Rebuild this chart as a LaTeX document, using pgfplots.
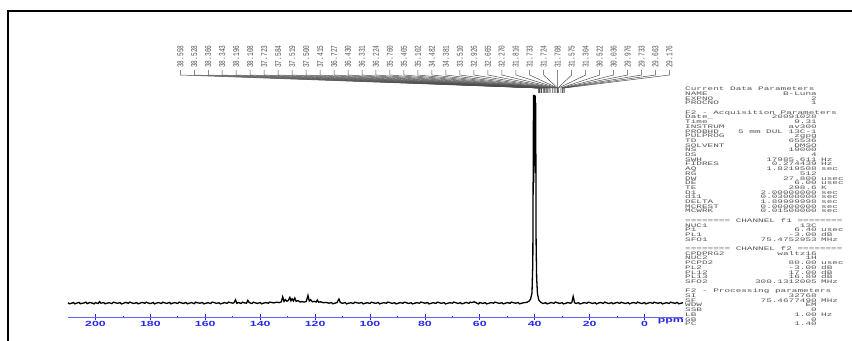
\documentclass[border=0pt]{standalone}
\usepackage{pgfplots}
\pgfplotsset{compat=1.18}
\usepackage{fontspec}
\setmainfont{Liberation Sans}
\setmonofont{Liberation Mono}
\usepackage{graphicx}

\definecolor{nmrblue}{RGB}{40,40,235}
\definecolor{axblue}{RGB}{100,100,250}
\definecolor{txtgray}{RGB}{85,85,85}

\newcommand\plab[1]{\rotatebox{90}{\scalebox{1}[1.45]{\fontsize{6.2}{6.2}\selectfont\ttfamily\color{txtgray}#1}}}
\newcommand\ptxt[1]{\scalebox{1.74}[1]{\fontsize{5.4}{5.4}\selectfont\ttfamily\color{txtgray}#1}}
\newcommand\tlab[1]{\scalebox{1.65}[1]{\fontsize{7.5}{7.5}\selectfont\bfseries\color{nmrblue}#1}}
\newcommand\prm[4]{%
  \pgfmathsetmacro\yy{341-89-4.7*(#1-1)-1.8}%
  \node[anchor=base west, inner sep=0pt] at (685bp,\yy bp) {\ptxt{#2}};%
  \node[anchor=base east, inner sep=0pt] at (817bp,\yy bp) {\ptxt{#3}};%
  \node[anchor=base west, inner sep=0pt] at (821bp,\yy bp) {\ptxt{#4}};%
}
\newcommand\ptitle[2]{%
  \pgfmathsetmacro\yy{341-89-4.7*(#1-1)-1.8}%
  \node[anchor=base west, inner sep=0pt] at (685bp,\yy bp) {\ptxt{#2}};%
}

\pgfplotstableread{
ppm y
210 0.3
209.5 -0.8
209 -0.5
208 0.4
207.5 -0.9
207 -0.3
206 0.6
205.5 -0.7
205 -0.4
204 0.2
203.5 0.9
203 -0.6
202 0.5
201 -0.2
200.5 -0.9
200 0.4
199 -0.5
198.5 1.4
198 -0.2
197 0.5
196.5 -0.8
196 -0.4
195 0.3
194 -0.6
193.5 0.8
193 0.5
192 -0.3
191 0.4
190.5 -0.9
190 -0.5
189 0.6
188 -0.3
187.5 0.9
187 0.3
186 -0.5
185 0.4
184.5 -0.8
184 -0.4
183 0.6
182 -0.3
181.5 0.8
181 0.2
180 -0.6
179 0.5
178.5 -0.9
178 -0.3
177 0.4
176 -0.5
175.5 0.8
175 0.3
174 -0.4
173 0.6
172.5 -0.9
172 -0.2
171 0.4
170 -0.5
169.5 0.9
169 0.3
168 -0.4
167 0.5
166.5 -0.8
166 -0.3
165 0.4
164 -0.6
163.5 0.8
163 0.3
162 -0.2
161 0.5
160.5 -0.9
160 -0.4
159 0.3
158 -0.5
157.5 0.9
157 0.6
156 -0.3
155 0.2
154.5 -0.9
154 -0.5
153 0.4
152 -0.3
151.5 0.9
151 0.5
150 -0.2
149.5 0.4
149 3.2
148.5 -0.3
148 0.5
147 -0.4
146.5 0.8
146 0.3
145 -0.2
144.5 2.6
144 0.4
143 -0.5
142.5 0.8
142 0.3
141 -0.4
140 0.5
139.5 -0.8
139 -0.3
138 0.4
137 -0.2
136.5 0.9
136 0.6
135 0.1
134 0.8
133 0.4
132.3 1.2
131.8 6.2
131.3 1.5
130.8 3.4
130.3 1.8
129.8 2.4
129.2 5.6
128.8 2.2
128.4 4.2
127.9 2.0
127.4 5.0
126.9 1.6
126.2 2.4
125.5 1.0
124.8 1.4
124 0.9
123.2 1.5
122.6 7.6
122.1 2.0
121.6 3.2
121 1.2
120.3 1.6
119.6 1.0
119.2 3.0
118.7 0.8
118 1.2
117 0.3
116 0.6
115 -0.2
114 0.4
113.5 -0.8
113 -0.4
112 0.5
111.3 4.0
110.8 0.4
110 -0.3
109 0.5
108.5 -0.9
108 -0.4
107 0.3
106 -0.5
105.5 0.8
105 0.4
104 -0.2
103 0.5
102.5 -0.9
102 -0.4
101 0.3
100 -0.5
99.5 0.8
99 0.4
98 -0.3
97 0.5
96.5 -0.9
96 -0.4
95 0.3
94 -0.2
93.5 0.9
93 0.6
92 -0.4
91 0.3
90.5 -0.9
90 -0.5
89 0.4
88 -0.3
87.5 0.8
87 0.5
86 -0.4
85 0.2
84.5 -0.9
84 -0.5
83 0.4
82 -0.3
81.5 0.9
81 0.6
80 -0.2
79 0.4
78.5 -0.9
78 -0.5
77 0.3
76 -0.4
75.5 0.8
75 0.5
74 -0.3
73 0.4
72.5 -0.9
72 -0.5
71 0.3
70 -0.2
69.5 0.9
69 0.5
68 -0.4
67 0.3
66.5 -0.8
66 -0.5
65 0.6
64 -0.3
63.5 0.9
63 0.4
62 1.2
61 -0.3
60.5 -0.9
60 0.5
59 -0.4
58 0.3
57.5 -0.9
57 -0.5
56 0.4
55 -0.2
54.5 0.9
54 0.5
53 -0.4
52 0.3
51.5 -0.8
51 -0.5
50 0.4
49 -0.3
48.5 0.9
48 0.5
47 -0.2
46 0.4
45.5 -0.8
45 -0.4
44 0.3
43 0.6
42.5 1.2
42 2.0
41.5 4.0
41 10
40.7 40
40.55 140
40.45 208
40.35 120
40.25 206
40.15 150
40.05 208
39.95 170
39.85 207
39.75 130
39.65 200
39.5 60
39.3 25
39.0 9
38.5 3
38 1.2
37.5 0.2
37 -0.5
36 0.3
35.5 -0.9
35 -0.4
34 0.4
33 -0.3
32.5 0.9
32 0.5
31 -0.4
30 0.3
29.5 -0.9
29 -0.5
28 0.4
27 -0.2
26.5 0.5
26 6.5
25.5 0.3
25 -0.4
24 0.3
23.5 -0.9
23 -0.5
22 0.4
21 -0.3
20.5 0.8
20 0.5
19 -0.4
18 0.3
17.5 -0.9
17 -0.2
16 0.5
15 -0.4
14.5 0.9
14 0.3
13 -0.5
12 0.4
11.5 -0.8
11 -0.3
10 0.6
9 -0.4
8.5 0.8
8 0.3
7 -0.5
6 0.4
5.5 -0.9
5 -0.2
4 0.5
3 -0.4
2.5 0.9
2 0.3
1 -0.5
0 0.4
-0.5 -0.9
-1 -0.3
-2 0.5
-3 -0.4
-3.5 0.8
-4 0.3
-5 -0.2
-6 0.5
-6.5 -0.9
-7 -0.4
-8 0.3
-9 -0.5
-9.5 0.8
-10 0.4
-11 -0.3
-12 0.5
-12.5 -0.8
-13 -0.4
-14 0.3
}\spectrum

\begin{document}
\begin{tikzpicture}
\useasboundingbox (0,0) rectangle (852bp,341bp);
\begin{axis}[
  at={(68bp,24bp)}, anchor=south west, scale only axis,
  width=615bp, height=222bp,
  xmin=-14, xmax=210, ymin=-14, ymax=208,
  x dir=reverse, clip=false,
  axis x line*=bottom, axis y line=none,
  xtick={0,20,...,200}, minor xtick={10,30,...,190},
  tick align=center,
  major tick length=5bp, minor tick length=2.5bp,
  every tick/.style={nmrblue, line width=0.7bp},
  x axis line style={axblue, line width=0.9bp},
  xticklabel={\tlab{\pgfmathprintnumber[assume math mode=true]{\tick}}},
  xticklabel style={anchor=north, inner sep=0pt, yshift=-1.5bp},
]
\addplot[black, line width=1.3bp] table[x=ppm, y=y] {\spectrum};
\foreach \v [count=\i from 0] in {38.558,38.528,38.366,38.343,38.196,38.108,37.723,37.584,37.519,37.500,37.415,36.727,36.430,36.331,36.224,35.760,35.405,35.102,34.482,34.381,33.510,32.926,32.665,32.270,31.816,31.733,31.724,31.708,31.575,31.304,30.522,30.036,29.976,29.733,29.663,29.176} {
  \pgfmathsetmacro\xl{169.09-5.0909*\i}
  \edef\tmp{\noexpand\draw[black!70, line width=0.5bp] (axis cs:\xl,233) -- (axis cs:\xl,228) -- (axis cs:\v,215) -- (axis cs:\v,210);
  \noexpand\node[anchor=south, inner sep=0pt] at (axis cs:\xl,235) {\noexpand\plab{\v}};}
  \tmp
}
\node[anchor=north, inner sep=0pt] at (axis cs:-9.6,-15.5) {\tlab{ppm}};
\end{axis}
\draw[line width=1.3bp] (8bp,-10bp) -- (8bp,330bp) -- (870bp,330bp);
\ptitle{1}{Current Data Parameters}
\prm{2}{NAME}{B-Luna}{}
\prm{3}{EXPNO}{2}{}
\prm{4}{PROCNO}{1}{}
\ptitle{6}{F2 - Acquisition Parameters}
\prm{7}{Date\_}{20091028}{}
\prm{8}{Time}{9.31}{}
\prm{9}{INSTRUM}{av300}{}
\prm{10}{PROBHD}{5 mm DUL 13C-1}{}
\prm{11}{PULPROG}{zgpg}{}
\prm{12}{TD}{65536}{}
\prm{13}{SOLVENT}{DMSO}{}
\prm{14}{NS}{19000}{}
\prm{15}{DS}{4}{}
\prm{16}{SWH}{17985.611}{Hz}
\prm{17}{FIDRES}{0.274439}{Hz}
\prm{18}{AQ}{1.8219508}{sec}
\prm{19}{RG}{512}{}
\prm{20}{DW}{27.800}{usec}
\prm{21}{DE}{6.00}{usec}
\prm{22}{TE}{298.6}{K}
\prm{23}{D1}{2.00000000}{sec}
\prm{24}{d11}{0.03000000}{sec}
\prm{25}{DELTA}{1.89999998}{sec}
\prm{26}{MCREST}{0.00000000}{sec}
\prm{27}{MCWRK}{0.01500000}{sec}
\ptitle{29}{======== CHANNEL f1 ========}
\prm{30}{NUC1}{13C}{}
\prm{31}{P1}{6.40}{usec}
\prm{32}{PL1}{-3.00}{dB}
\prm{33}{SFO1}{75.4752953}{MHz}
\ptitle{35}{======== CHANNEL f2 ========}
\prm{36}{CPDPRG2}{waltz16}{}
\prm{37}{NUC2}{1H}{}
\prm{38}{PCPD2}{80.00}{usec}
\prm{39}{PL2}{-3.00}{dB}
\prm{40}{PL12}{17.00}{dB}
\prm{41}{PL13}{16.89}{dB}
\prm{42}{SFO2}{300.1312005}{MHz}
\ptitle{44}{F2 - Processing parameters}
\prm{45}{SI}{32768}{}
\prm{46}{SF}{75.4677490}{MHz}
\prm{47}{WDW}{EM}{}
\prm{48}{SSB}{0}{}
\prm{49}{LB}{1.00}{Hz}
\prm{50}{GB}{0}{}
\prm{51}{PC}{1.40}{}
\end{tikzpicture}
\end{document}
